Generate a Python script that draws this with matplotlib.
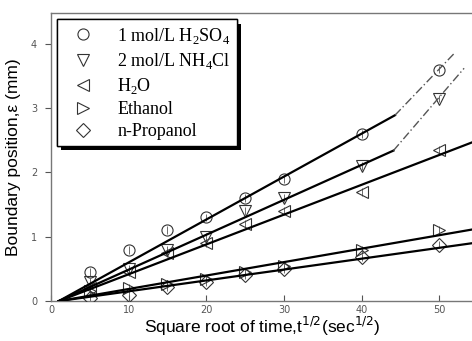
import numpy as np
from matplotlib import pyplot as plt
from matplotlib.patheffects import withSimplePatchShadow, Normal

x = [5, 10, 15, 20, 25, 30, 40, 50]
h2so4 = [0.45, 0.80, 1.10, 1.30, 1.60, 1.90, 2.60, 3.60]
nh4cl = [0.30, 0.50, 0.80, 1.00, 1.40, 1.60, 2.10, 3.15]
water = [0.20, 0.45, 0.75, 0.90, 1.20, 1.40, 1.70, 2.35]
ethanol = [0.15, 0.20, 0.27, 0.35, 0.45, 0.55, 0.80, 1.10]
propanol = [0.05, 0.10, 0.22, 0.30, 0.40, 0.50, 0.68, 0.88]

labels = ['1 mol/L H$_\\mathregular{2}$SO$_\\mathregular{4}$', '2 mol/L NH$_\\mathregular{4}$Cl',
          'H$_\\mathregular{2}$O', 'Ethanol', 'n-Propanol']
markers = ['o', 'v', '<', '>', 'D']

# fitted lines: solid part (start, break) and dash-dot extension end
fit_start = [1.0, 1.0, 1.0, 1.0, 1.0]
fit_break_x = [44.3, 44.1, 56, 56, 56]
fit_break_y = [2.89, 2.34, 2.55, 1.15, 0.93]
ext_x = [52.0, 53.2]
ext_y = [3.86, 3.62]

series = [h2so4, nh4cl, water, ethanol, propanol]

fig = plt.figure(figsize=(4.72, 3.41), dpi=100)
ax = fig.add_axes([0.108, 0.117, 0.895, 0.845])

for i, ys in enumerate(series):
    ms = 7 if markers[i] == 'D' else 8
    ax.plot(x, ys, linestyle='none', marker=markers[i], mfc='none', mec='#333333',
            mew=0.8, ms=ms, label=labels[i], zorder=3)
    ax.errorbar(x, ys, yerr=0.06, fmt='none', ecolor='#555555', elinewidth=0.6, zorder=2)
    ax.plot([fit_start[i], fit_break_x[i]], [0, fit_break_y[i]], color='black', lw=1.6, zorder=4)
    if i < 2:
        ax.plot([fit_break_x[i], ext_x[i]], [fit_break_y[i], ext_y[i]], color='#555555',
                lw=1.0, linestyle=(0, (6, 2, 1, 2)), zorder=4)

ax.set_xlim(0, 54.4)
ax.set_ylim(0, 4.48)
ax.set_xticks([0, 10, 20, 30, 40, 50])
ax.set_yticks([0, 1, 2, 3, 4])
ax.tick_params(axis='x', direction='in', length=4, labelsize=7, colors='#555555', pad=3)
ax.tick_params(axis='y', direction='out', length=4, labelsize=7, colors='#555555', pad=6)
for sp in ax.spines.values():
    sp.set_color('#777777')
    sp.set_linewidth(1.0)

ax.set_xlabel('Square root of time,t$^{1/2}$(sec$^{1/2}$)', fontsize=12.5,
              family='Liberation Sans', labelpad=0)
ax.set_ylabel('Boundary position,ε (mm)', fontsize=12.5, family='Liberation Sans', labelpad=7)

leg = ax.legend(loc='upper left', bbox_to_anchor=(0.005, 0.99), frameon=True, fancybox=False,
                edgecolor='black', prop={'family': 'Liberation Serif', 'size': 13},
                handletextpad=0.8, labelspacing=0.28, borderpad=0.35, handlelength=2.2,
                borderaxespad=0.2)
frame = leg.get_frame()
frame.set_linewidth(1.0)
frame.set_facecolor('white')
frame.set_alpha(1.0)
frame.set_path_effects([withSimplePatchShadow(offset=(3, -3), shadow_rgbFace='black', alpha=1.0),
                        Normal()])

fig.savefig('out.png', dpi=100)
